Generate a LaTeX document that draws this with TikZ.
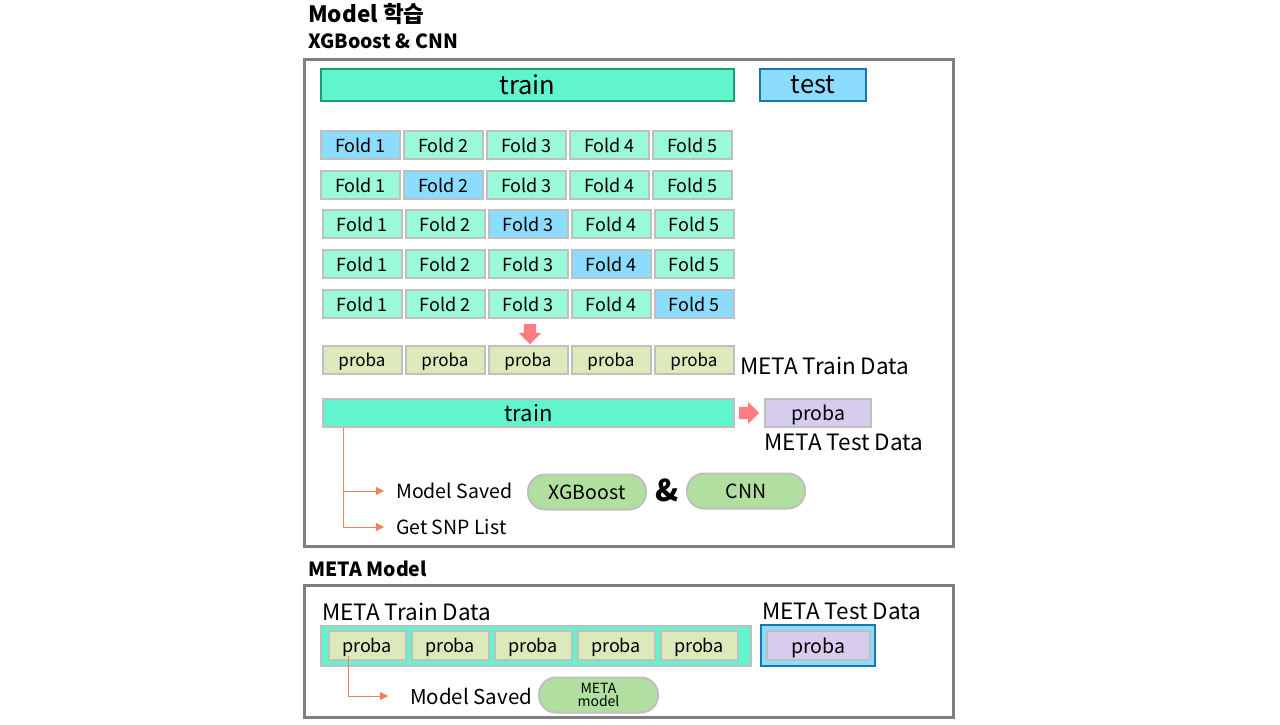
\documentclass[tikz,border=0pt]{standalone}
\usepackage{fontspec}
\setmainfont{Noto Sans CJK KR}
\usetikzlibrary{arrows.meta,shapes.arrows,positioning}
\definecolor{trainmint}{RGB}{96,245,204}
\definecolor{foldmint}{RGB}{153,249,217}
\definecolor{foldblue}{RGB}{140,220,255}
\definecolor{blueline}{RGB}{27,117,179}
\definecolor{greenline}{RGB}{26,158,114}
\definecolor{lightgray}{RGB}{191,191,191}
\definecolor{framegray}{RGB}{127,127,127}
\definecolor{probaolive}{RGB}{221,232,187}
\definecolor{probapurple}{RGB}{213,204,238}
\definecolor{pillgreen}{RGB}{177,223,160}
\definecolor{pinkarrow}{RGB}{255,124,128}
\definecolor{orangeline}{RGB}{244,128,90}
\newcommand{\fsz}[1]{\fontsize{#1}{#1}\selectfont}
\begin{document}
\begin{tikzpicture}[x=1pt,y=-1pt,
    every node/.style={text=black},
    frame/.style={draw=framegray,line width=3pt},
    grayedge/.style={draw=lightgray,line width=2pt,inner sep=0pt,text depth=0pt},
    foldbox/.style={grayedge,fill=foldmint,minimum width=79pt,minimum height=28pt,font=\fsz{18}},
    probabox/.style={grayedge,fill=probaolive,minimum width=79pt,minimum height=28pt,font=\fsz{17}},
    pill/.style={grayedge,fill=pillgreen,rounded corners=17pt,minimum width=118pt,minimum height=35pt,font=\fsz{19.5}},
    label/.style={anchor=west,inner sep=0pt,font=\fsz{22.5}},
    heading/.style={anchor=west,inner sep=0pt,font=\bfseries\fsz{#1}},
    pinkblock/.style={single arrow,fill=pinkarrow,inner sep=6pt,minimum height=20pt,
      single arrow head extend=5pt,single arrow head indent=0pt},
    branch/.style={draw=orangeline,line width=1pt,-{Triangle[length=8pt,width=8pt]}}]
  \useasboundingbox (0,0) rectangle (1280,724);
  % titles
  \node[heading=22.5] (title) at (308,14) {Model 학습};
  \node[heading=19.5] (subtitle) at (308,41) {XGBoost \& CNN};
  \node[heading=19.5] (metatitle) at (308,569) {META Model};
  % frames
  \draw[frame] (304,59) rectangle (953,546);
  \draw[frame] (304,585) rectangle (953,717);
  % split
  \node[draw=greenline,line width=2pt,fill=trainmint,minimum width=413pt,minimum height=32pt,
    text depth=0pt,font=\fsz{25.5}] (train) at (527.5,85) {train};
  \node[draw=blueline,line width=2pt,fill=foldblue,minimum width=106pt,minimum height=32pt,
    text depth=0pt,font=\fsz{25.5}] (test) at (813,85) {test};
  % folds
  \foreach \r/\y in {1/145,2/185,3/224,4/264,5/304} {
    \foreach \c in {1,...,5} {
      \pgfmathsetmacro{\xo}{\r>2 ? 362 : 360.5}
      \ifnum\c=\r
        \node[foldbox,fill=foldblue] (f\r\c) at (\xo+83*\c-83,\y) {Fold \c};
      \else
        \node[foldbox] (f\r\c) at (\xo+83*\c-83,\y) {Fold \c};
      \fi
    }
  }
  % meta train data
  \foreach \c in {1,...,5}
    \node[probabox] (p\c) at (362+83*\c-83,360) {proba};
  \node[pinkblock,shape border rotate=270] (down) at (530,331) {};
  \node[label] (metatrain) at (740,366) {META Train Data};
  \node[grayedge,fill=trainmint,minimum width=411pt,minimum height=28pt,font=\fsz{22}]
    (trainbar) at (528.5,413) {train};
  \node[pinkblock,right=4pt of trainbar] (right) {};
  \node[grayedge,fill=probapurple,minimum width=106pt,minimum height=28pt,font=\fsz{19.5}]
    (testproba) at (818,413) {proba};
  \node[label] (metatest) at (764,442) {META Test Data};
  % saved models
  \node[label,font=\fsz{19.5}] (saved) at (396,491) {Model Saved};
  \node[label,font=\fsz{19.5}] (snp) at (396,527) {Get SNP List};
  \draw[branch] ([xshift=21pt]trainbar.south west) |- ([xshift=-12pt]saved.west);
  \draw[branch] ([xshift=21pt]trainbar.south west) |- ([xshift=-12pt]snp.west);
  \node[pill] (xgb) at (587,492) {XGBoost};
  \node[font=\bfseries\fsz{30}] (amp) at (667,490) {\&};
  \node[pill] (cnn) at (746,491) {CNN};
  % meta model
  \node[label] (mtrain) at (322,612) {META Train Data};
  \node[grayedge,fill=trainmint,minimum width=430pt,minimum height=40pt] (mbar) at (536,646) {};
  \foreach \c in {1,...,5}
    \node[probabox,minimum width=77pt,minimum height=29pt,font=\fsz{18}] (mp\c) at (367+83*\c-83,645.5) {proba};
  \node[label] (mtest) at (762,611) {META Test Data};
  \node[draw=blueline,line width=2pt,fill=foldblue,minimum width=114pt,minimum height=41pt]
    (mtestbox) at (818,645.5) {};
  \node[probabox,fill=probapurple,minimum width=103pt,minimum height=29pt,font=\fsz{19.5}]
    (mtestproba) at (818.5,645.5) {proba};
  \node[label,font=\fsz{20.5}] (msaved) at (410,696) {Model Saved};
  \draw[branch] ([xshift=-19pt,yshift=-10pt]mp1.center) |- ([xshift=-22pt]msaved.west);
  \node[pill,minimum width=119pt,font=\fsz{14},align=center,text depth=] (metapill) at (598.5,695)
    {META\\[-1pt]model};
\end{tikzpicture}
\end{document}
